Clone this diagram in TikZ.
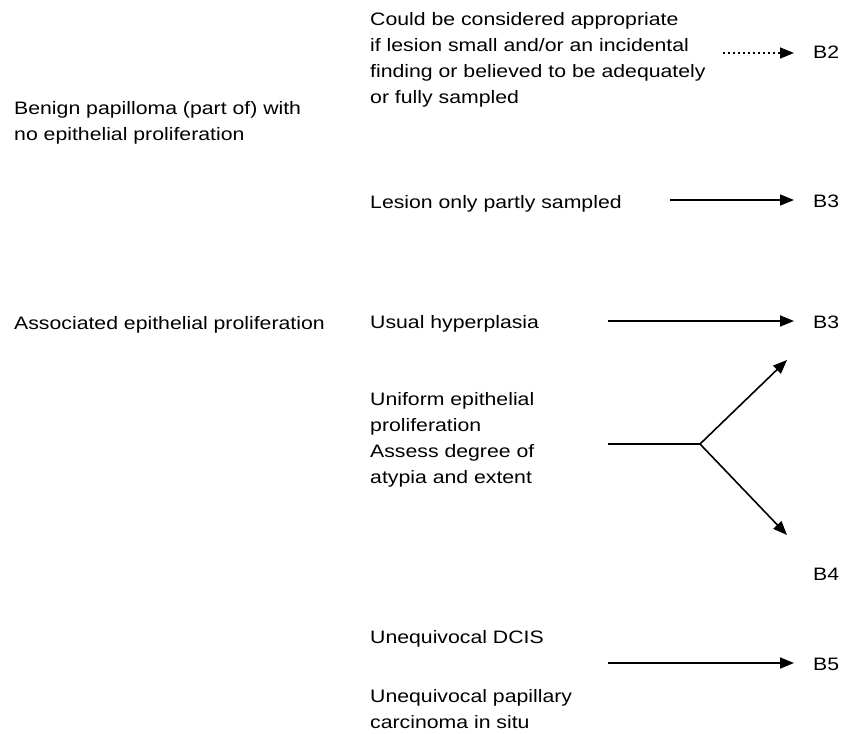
\documentclass[tikz,border=0pt]{standalone}
\usepackage{fontspec}
\setmainfont{Liberation Sans}[FakeStretch=1.18]
\usetikzlibrary{arrows.meta}

\tikzset{
    txt/.style={anchor=base west,inner sep=0pt,align=left,font=\fontsize{18}{25.7}\selectfont},
    grade/.style={anchor=base west,inner sep=0pt,font=\fontsize{18}{25.7}\selectfont},
    arr/.style={line width=1.6pt,-{Triangle[length=14pt,width=11pt]},shorten >=19pt},
    dotarr/.style={arr,dash pattern=on 1.5pt off 3.5pt}
}

\begin{document}
\begin{tikzpicture}[x=1pt,y=-1pt]
    \useasboundingbox (0,0) rectangle (850,733);

    \node[txt] (benign) at (14,140) {Benign papilloma (part of) with\\no epithelial proliferation};
    \node[txt] (assoc) at (14,329) {Associated epithelial proliferation};

    \node[txt] (small) at (370,103) {Could be considered appropriate\\if lesion small and/or an incidental\\finding or believed to be adequately\\or fully sampled};
    \node[txt] (partly) at (370,208) {Lesion only partly sampled};
    \node[txt] (usual) at (370,328) {Usual hyperplasia};
    \node[txt] (uniform) at (370,483) {Uniform epithelial\\proliferation\\Assess degree of\\atypia and extent};
    \node[txt] (dcis) at (370,643) {Unequivocal DCIS};
    \node[txt] (papca) at (370,728) {Unequivocal papillary\\carcinoma in situ};

    \node[grade] (b2) at (813,59) {B2};
    \node[grade] (b3a) at (813,207) {B3};
    \node[grade] (b3b) at (813,328) {B3};
    \node[grade] (b4) at (813,580) {B4};
    \node[grade] (b5) at (813,670) {B5};

    \coordinate (s2) at (723,53);
    \coordinate (s3a) at (670,200);
    \coordinate (s3b) at (608,321);
    \coordinate (s4) at (608,444);
    \coordinate (fk) at (700,444);
    \coordinate (u4) at (787,360);
    \coordinate (d4) at (787,535);
    \coordinate (s5) at (608,663);

    \draw[dotarr] (s2) -- (s2 -| b2.west);
    \draw[arr] (s3a) -- (s3a -| b3a.west);
    \draw[arr] (s3b) -- (s3b -| b3b.west);
    \draw[line width=1.6pt] (s4) -- (fk);
    \draw[arr,shorten >=0pt] (fk) -- (u4);
    \draw[arr,shorten >=0pt] (fk) -- (d4);
    \draw[arr] (s5) -- (s5 -| b5.west);

\end{tikzpicture}
\end{document}
